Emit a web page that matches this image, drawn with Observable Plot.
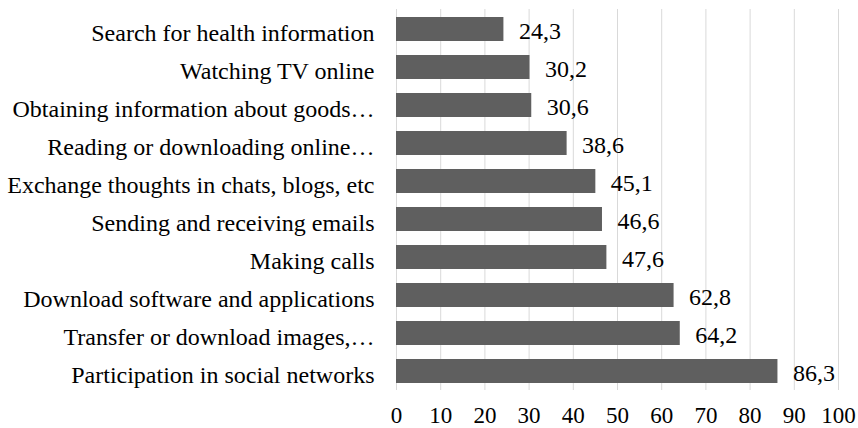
<!DOCTYPE html>
<html>
<head>
<meta charset="utf-8">
<script src="https://cdn.jsdelivr.net/npm/d3@7"></script>
<script src="https://cdn.jsdelivr.net/npm/@observablehq/plot@0.6"></script>
<style>
  html, body { margin: 0; padding: 0; background: #fff; }
  #chart svg { display: block; }
</style>
</head>
<body>
<div id="chart"></div>
<script>
const categories = [
  "Search for health information",
  "Watching TV online",
  "Obtaining information about goods…",
  "Reading or downloading online…",
  "Exchange thoughts in chats, blogs, etc",
  "Sending and receiving emails",
  "Making calls",
  "Download software and applications",
  "Transfer or download images,…",
  "Participation in social networks"
];
const values = [24.3, 30.2, 30.6, 38.6, 45.1, 46.6, 47.6, 62.8, 64.2, 86.3];
const valueLabels = ["24,3", "30,2", "30,6", "38,6", "45,1", "46,6", "47,6", "62,8", "64,2", "86,3"];
const xTicks = [0, 10, 20, 30, 40, 50, 60, 70, 80, 90, 100];

const data = categories.map((c, i) => ({category: c, value: values[i], label: valueLabels[i]}));

const chart = Plot.plot({
  width: 858,
  height: 428,
  marginLeft: 396,
  marginRight: 20,
  marginTop: 9,
  marginBottom: 38,
  style: {fontFamily: "'Liberation Serif', 'Times New Roman', serif", fontSize: "24px", color: "#000", background: "#fff"},
  x: {domain: [0, 100], ticks: xTicks, label: null},
  y: {domain: categories, paddingInner: 0.37, paddingOuter: 0.185, label: null},
  marks: [
    Plot.gridX(xTicks, {stroke: "#d9d9d9", strokeOpacity: 1, strokeWidth: 1}),
    Plot.barX(data, {x: "value", y: "category", fill: "#5f5f5f"}),
    Plot.text(data, {x: "value", y: "category", text: "label", textAnchor: "start", dx: 15, dy: 1.5, fill: "#000", fontSize: 24}),
    Plot.axisX({ticks: xTicks, tickSize: 0, tickPadding: 16, fontSize: 23, tickFormat: d => String(d), fill: "#000", label: null}),
    Plot.axisY({tickSize: 0, tickPadding: 22, fontSize: 24, dy: 4, fill: "#000", label: null})
  ]
});
document.getElementById("chart").appendChild(chart);
</script>
</body>
</html>
